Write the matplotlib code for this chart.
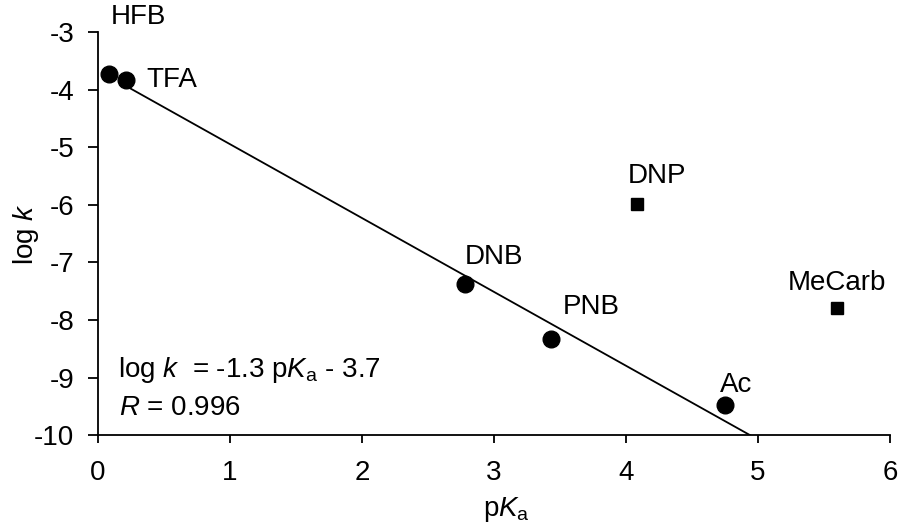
import numpy as np
import matplotlib.pyplot as plt

plt.rcParams['font.family'] = ['Liberation Sans', 'DejaVu Sans']
plt.rcParams['mathtext.fontset'] = 'custom'
plt.rcParams['mathtext.rm'] = 'Liberation Sans'
plt.rcParams['mathtext.it'] = 'Liberation Sans:italic'
plt.rcParams['axes.unicode_minus'] = False

### Carboxylic acids (fit set, circles)
acid_names = ['HFB', 'TFA', 'DNB', 'PNB', 'Ac']
acid_pka = [0.08, 0.21, 2.78, 3.43, 4.75]
acid_logk = [-3.73, -3.83, -7.38, -8.33, -9.48]
# label offsets in pixels (dx, dy) and alignment
acid_offsets = [(2, 57, 'left'), (21, 0, 'left'), (0, 27, 'left'), (12, 32, 'left'), (-5, 20, 'left')]

### Outliers (squares)
other_names = ['DNP', 'MeCarb']
other_pka = [4.08, 5.6]
other_logk = [-5.99, -7.79]
other_offsets = [(-9, 28, 'left'), (0, 25, 'center')]

FS = 20

fig = plt.figure(figsize=(8.99, 5.25), dpi=100)
ax = fig.add_axes([0.109, 0.171, 0.881, 0.768])

### Linear fit through the acid points
slope, intercept = np.polyfit(acid_pka, acid_logk, 1)
fx = np.array([acid_pka[1], 5.0])
ax.plot(fx, slope * fx + intercept, color='black', lw=1.3, zorder=2)

ax.plot(acid_pka, acid_logk, 'o', color='black', ms=12, zorder=3)
ax.plot(other_pka, other_logk, 's', color='black', ms=9, zorder=3)

for names, xs, ys, offs in [(acid_names, acid_pka, acid_logk, acid_offsets),
                            (other_names, other_pka, other_logk, other_offsets)]:
    for n, x, y, (dx, dy, ha) in zip(names, xs, ys, offs):
        ax.annotate(n, (x, y), xytext=(dx, dy), textcoords='offset pixels',
                    ha=ha, va='center', fontsize=FS)

ax.text(0.025, 0.161, r'log $\mathit{k}$  = -1.3 p$\mathit{K}_{\mathrm{a}}$ - 3.7',
        transform=ax.transAxes, fontsize=FS, va='center')
ax.text(0.027, 0.067, r'$\mathit{R}$ = 0.996', transform=ax.transAxes,
        fontsize=FS, va='center')

ax.set_xlim(0, 6)
ax.set_ylim(-10, -3)
ax.set_xticks(range(0, 7))
ax.set_yticks(range(-10, -2))
ax.tick_params(labelsize=FS, direction='out', width=1.3)
ax.tick_params(axis='y', length=7, pad=10)
ax.tick_params(axis='x', length=6, pad=12)
ax.spines['top'].set_visible(False)
ax.spines['right'].set_visible(False)
for s in ['left', 'bottom']:
    ax.spines[s].set_linewidth(1.3)

ax.set_xlabel(r'p$\mathit{K}_{\mathrm{a}}$', fontsize=FS)
ax.set_ylabel(r'log $\mathit{k}$', fontsize=FS)
ax.xaxis.set_label_coords(0.516, -0.149)
ax.yaxis.set_label_coords(-0.072, 0.5)

fig.savefig('out.png', dpi=100)
